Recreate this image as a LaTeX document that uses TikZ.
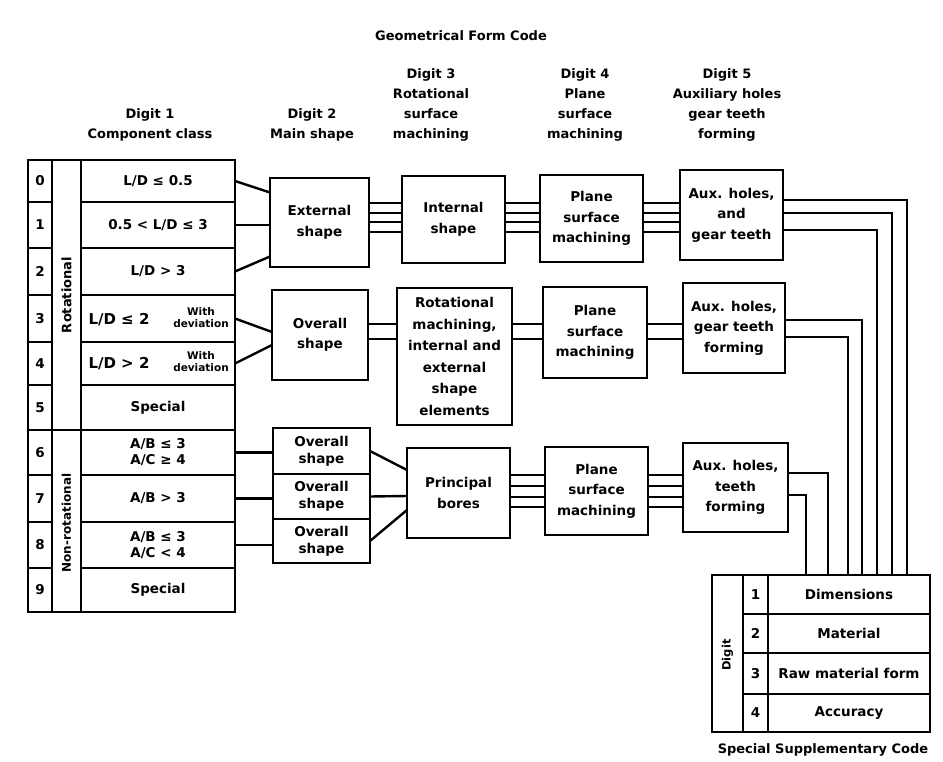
\documentclass[tikz,border=0pt]{standalone}
\usepackage{fontspec}
\setmainfont{DejaVu Sans}
\usetikzlibrary{calc}
\begin{document}
\begin{tikzpicture}[x=1pt,y=-1pt,
  bx/.style={draw, line width=2.4pt, rectangle, inner sep=0pt, outer sep=0pt, align=center, font=\bfseries\fontsize{13.5}{20.5}\selectfont},
  hdr/.style={align=center, inner sep=0pt, font=\bfseries\fontsize{13}{20}\selectfont},
  smalltxt/.style={align=center, inner sep=0pt, font=\bfseries\fontsize{10.5}{12}\selectfont},
  conn/.style={line width=2.4pt},
  sz/.style 2 args={minimum width=#1pt, minimum height=#2pt},
]
\useasboundingbox (0,0) rectangle (943,762);

% headers
\node[hdr] (title) at (461,36) {Geometrical Form Code};
\node[hdr] (h1) at (150,125) {Digit 1\\Component class};
\node[hdr] (h2) at (312,125) {Digit 2\\Main shape};
\node[hdr] (h3) at (431,105) {Digit 3\\Rotational\\surface\\machining};
\node[hdr] (h4) at (585,105) {Digit 4\\Plane\\surface\\machining};
\node[hdr] (h5) at (727,105) {Digit 5\\Auxiliary holes\\gear teeth\\forming};

% left table: digits
\node[bx, sz={24}{42}] (d0) at (40,181) {0};
\node[bx, sz={24}{46}] (d1) at (40,225) {1};
\node[bx, sz={24}{47}] (d2) at (40,271.5) {2};
\node[bx, sz={24}{47}] (d3) at (40,318.5) {3};
\node[bx, sz={24}{43}] (d4) at (40,363.5) {4};
\node[bx, sz={24}{45}] (d5) at (40,407.5) {5};
\node[bx, sz={24}{45}] (d6) at (40,452.5) {6};
\node[bx, sz={24}{47}] (d7) at (40,498.5) {7};
\node[bx, sz={24}{46}] (d8) at (40,545) {8};
\node[bx, sz={24}{44}] (d9) at (40,590) {9};
% class columns
\node[bx, sz={29}{270}] (rcol) at (66.5,295) {};
\node[hdr, rotate=90] (rlab) at (66.5,295) {Rotational};
\node[bx, sz={29}{182}] (ncol) at (66.5,521) {};
\node[hdr, rotate=90, font=\bfseries\fontsize{12}{13}\selectfont] (nlab) at (66.5,523) {Non-rotational};
% text cells
\node[bx, sz={154}{42}] (t0) at (158,181) {L/D ≤ 0.5};
\node[bx, sz={154}{46}] (t1) at (158,225) {0.5 < L/D ≤ 3};
\node[bx, sz={154}{47}] (t2) at (158,271.5) {L/D > 3};
\node[bx, sz={154}{47}] (t3) at (158,318.5) {};
\node[hdr, font=\bfseries\fontsize{15}{16}\selectfont] (t3a) at (119,320) {L/D ≤ 2};
\node[smalltxt] (t3b) at (201,318) {With\\deviation};
\node[bx, sz={154}{43}] (t4) at (158,363.5) {};
\node[hdr, font=\bfseries\fontsize{15}{16}\selectfont] (t4a) at (119,364) {L/D > 2};
\node[smalltxt] (t4b) at (201,362) {With\\deviation};
\node[bx, sz={154}{45}] (t5) at (158,407.5) {Special};
\node[bx, sz={154}{45}] (t6) at (158,452.5) {A/B ≤ 3\\[-4.5pt]A/C ≥ 4};
\node[bx, sz={154}{47}] (t7) at (158,498.5) {A/B > 3};
\node[bx, sz={154}{46}] (t8) at (158,545) {A/B ≤ 3\\[-4.5pt]A/C < 4};
\node[bx, sz={154}{44}] (t9) at (158,590) {Special};

% row 1 boxes
\node[bx, sz={99}{89}] (ext) at (319.5,222.5) {External\\shape};
\node[bx, sz={103}{87}] (int) at (453.5,219.5) {Internal\\shape};
\node[bx, sz={103}{87}] (pl1) at (591.5,218.5) {Plane\\surface\\machining};
\node[bx, sz={103}{90}] (aux1) at (731.5,215) {Aux. holes,\\and\\gear teeth};
% row 2 boxes
\node[bx, sz={96}{90}] (ov2) at (320,335) {Overall\\shape};
\node[bx, sz={115}{137}, font=\bfseries\fontsize{13.5}{21.5}\selectfont] (rot2) at (454.5,356.5) {Rotational\\machining,\\internal and\\external\\shape\\elements};
\node[bx, sz={104}{91}] (pl2) at (595,332.5) {Plane\\surface\\machining};
\node[bx, sz={102}{90}] (aux2) at (734,328) {Aux. holes,\\gear teeth\\forming};
% row 3 boxes
\node[bx, sz={97}{46}, font=\bfseries\fontsize{13.5}{17}\selectfont] (ova) at (321.5,451) {Overall\\shape};
\node[bx, sz={97}{45}, font=\bfseries\fontsize{13.5}{17}\selectfont] (ovb) at (321.5,496.5) {Overall\\shape};
\node[bx, sz={97}{44}, font=\bfseries\fontsize{13.5}{17}\selectfont] (ovc) at (321.5,541) {Overall\\shape};
\node[bx, sz={103}{90}] (pb) at (458.5,493) {Principal\\bores};
\node[bx, sz={103}{88}] (pl3) at (596.5,491) {Plane\\surface\\machining};
\node[bx, sz={105}{89}] (aux3) at (735.5,487.5) {Aux. holes,\\teeth\\forming};

% supplementary code table
\node[bx, sz={31}{157}] (sd) at (727.5,653.5) {};
\node[hdr, rotate=90, font=\bfseries\fontsize{11.5}{13}\selectfont] (sdl) at (727.5,655) {Digit};
\node[bx, sz={25}{39}] (sn1) at (755.5,594.5) {1};
\node[bx, sz={25}{39}] (sn2) at (755.5,633.5) {2};
\node[bx, sz={25}{41}] (sn3) at (755.5,673.5) {3};
\node[bx, sz={25}{38}] (sn4) at (755.5,713) {4};
\node[bx, sz={162}{39}] (s1) at (849,594.5) {Dimensions};
\node[bx, sz={162}{39}] (s2) at (849,633.5) {Material};
\node[bx, sz={162}{41}] (s3) at (849,673.5) {Raw material form};
\node[bx, sz={162}{38}] (s4) at (849,713) {Accuracy};
\node[hdr] (scap) at (823,750) {Special Supplementary Code};

% connectors: class -> main shape
\draw[conn] (t0.east) -- ([yshift=30pt]ext.west);
\draw[conn] (t1.east) -- (t1.east -| ext.west);
\draw[conn] (t2.east) -- ([yshift=-34pt]ext.west);
\draw[conn] (t3.east) -- ([yshift=3pt]ov2.west);
\draw[conn] (t4.east) -- ([yshift=-10pt]ov2.west);
\draw[conn] (t6.east) -- (t6.east -| ova.west);
\draw[conn] (t7.east) -- (t7.east -| ovb.west);
\draw[conn] (t8.east) -- (t8.east -| ovc.west);
\draw[conn] (ova.east) -- ([yshift=23pt]pb.west);
\draw[conn] (ovb.east) -- ([yshift=-3pt]pb.west);
\draw[conn] (ovc.east) -- ([yshift=-17pt]pb.west);

% row 1 multiple lines
\foreach \yy in {203,213,222,232}{
  \draw[conn] (ext.east |- 0,\yy) -- (int.west |- 0,\yy);
  \draw[conn] (int.east |- 0,\yy) -- (pl1.west |- 0,\yy);
  \draw[conn] (pl1.east |- 0,\yy) -- (aux1.west |- 0,\yy);
}
% row 2
\foreach \yy in {324,339}{
  \draw[conn] (ov2.east |- 0,\yy) -- (rot2.west |- 0,\yy);
  \draw[conn] (rot2.east |- 0,\yy) -- (pl2.west |- 0,\yy);
  \draw[conn] (pl2.east |- 0,\yy) -- (aux2.west |- 0,\yy);
}
% row 3
\foreach \yy in {475,486,497,507}{
  \draw[conn] (pb.east |- 0,\yy) -- (pl3.west |- 0,\yy);
  \draw[conn] (pl3.east |- 0,\yy) -- (aux3.west |- 0,\yy);
}

% exits to supplementary code
\draw[conn] (aux1.east |- 0,200) -| (s1.north -| 907,0);
\draw[conn] (aux1.east |- 0,213) -| (s1.north -| 892,0);
\draw[conn] (aux1.east |- 0,230) -| (s1.north -| 877,0);
\draw[conn] (aux2.east |- 0,320) -| (s1.north -| 862,0);
\draw[conn] (aux2.east |- 0,337) -| (s1.north -| 848,0);
\draw[conn] (aux3.east |- 0,473) -| (s1.north -| 828,0);
\draw[conn] (aux3.east |- 0,495) -| (s1.north -| 806,0);
\end{tikzpicture}
\end{document}
